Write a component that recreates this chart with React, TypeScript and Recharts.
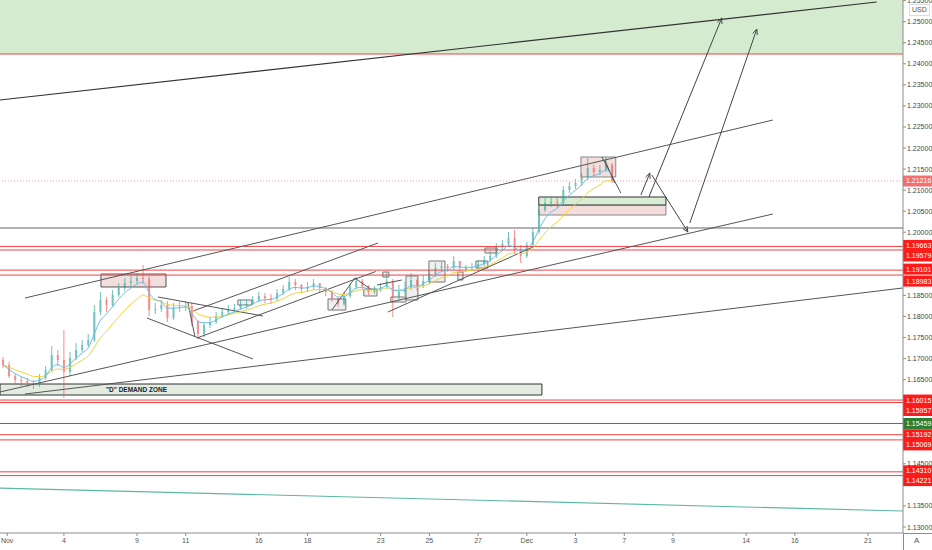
import React from 'react';
import { ComposedChart, XAxis, YAxis, Bar, Line, ReferenceLine, ReferenceArea } from 'recharts';

// ---------- candle data (6-hour candles, EURUSD, Oct 30 – Dec 4) ----------
const T_START = -0.5;
const T_STEP = 0.25;

const OPEN = [
  1.16966, 1.16847, 1.16586, 1.16491, 1.16467, 1.16420, 1.16372, 1.16539, 1.16729, 1.17085,
  1.16966, 1.16681, 1.17014, 1.17204, 1.17322, 1.17441, 1.18106, 1.18391, 1.18272, 1.18510,
  1.18676, 1.18795, 1.18842, 1.18913, 1.18890, 1.18153, 1.18177, 1.18272, 1.17963, 1.18201,
  1.18225, 1.18248, 1.17868, 1.17584, 1.17797, 1.17868, 1.18011, 1.18106, 1.18153, 1.18201,
  1.18272, 1.18296, 1.18391, 1.18486, 1.18438, 1.18415, 1.18557, 1.18652, 1.18818, 1.18747,
  1.18652, 1.18700, 1.18795, 1.18676, 1.18581, 1.18438, 1.18296, 1.18486, 1.18700, 1.18842,
  1.18723, 1.18581, 1.18628, 1.18700, 1.18842, 1.18462, 1.18581, 1.18676, 1.18866, 1.18723,
  1.18842, 1.19008, 1.19151, 1.19198, 1.19151, 1.19317, 1.19151, 1.19151, 1.19175, 1.19246,
  1.19341, 1.19436, 1.19649, 1.19721, 1.19863, 1.19578, 1.19436, 1.19697, 1.20006, 1.20528,
  1.20694, 1.20718, 1.20694, 1.21003, 1.21098, 1.21169, 1.21312, 1.21525, 1.21431, 1.21478,
  1.21597,
];
const HIGH = [
  1.17037, 1.16919, 1.16634, 1.16562, 1.16539, 1.16491, 1.16634, 1.16824, 1.17299, 1.17204,
  1.17678, 1.17156, 1.17370, 1.17441, 1.17584, 1.18272, 1.18581, 1.18462, 1.18628, 1.18795,
  1.18913, 1.18961, 1.19032, 1.19222, 1.18961, 1.18320, 1.18391, 1.18367, 1.18320, 1.18343,
  1.18367, 1.18320, 1.17916, 1.17868, 1.17987, 1.18106, 1.18201, 1.18272, 1.18296, 1.18391,
  1.18391, 1.18486, 1.18581, 1.18557, 1.18533, 1.18652, 1.18747, 1.18937, 1.18890, 1.18771,
  1.18818, 1.18890, 1.18795, 1.18700, 1.18628, 1.18438, 1.18581, 1.18795, 1.18937, 1.18890,
  1.18747, 1.18723, 1.18795, 1.19056, 1.18890, 1.18747, 1.18818, 1.19032, 1.18913, 1.18985,
  1.19103, 1.19270, 1.19293, 1.19246, 1.19436, 1.19293, 1.19222, 1.19270, 1.19341, 1.19436,
  1.19555, 1.19744, 1.19816, 1.20006, 1.20053, 1.19697, 1.19768, 1.20101, 1.20647, 1.20813,
  1.20861, 1.20837, 1.21098, 1.21193, 1.21264, 1.21407, 1.21763, 1.21597, 1.21597, 1.21787,
  1.21644,
];
const LOW = [
  1.16776, 1.16539, 1.16396, 1.16349, 1.16325, 1.16277, 1.16325, 1.16491, 1.16681, 1.16824,
  1.16064, 1.16586, 1.16966, 1.17156, 1.17275, 1.17394, 1.18035, 1.18106, 1.18225, 1.18462,
  1.18605, 1.18700, 1.18771, 1.18771, 1.18011, 1.18058, 1.18106, 1.17868, 1.17916, 1.18106,
  1.18130, 1.17774, 1.17465, 1.17512, 1.17726, 1.17821, 1.17963, 1.18035, 1.18082, 1.18153,
  1.18177, 1.18272, 1.18343, 1.18320, 1.18296, 1.18367, 1.18510, 1.18605, 1.18628, 1.18557,
  1.18581, 1.18628, 1.18581, 1.18486, 1.18343, 1.18225, 1.18248, 1.18438, 1.18652, 1.18628,
  1.18510, 1.18533, 1.18581, 1.18652, 1.17987, 1.18391, 1.18486, 1.18628, 1.18605, 1.18676,
  1.18771, 1.18937, 1.19080, 1.19056, 1.19103, 1.19080, 1.19056, 1.19080, 1.19103, 1.19198,
  1.19293, 1.19388, 1.19578, 1.19673, 1.19483, 1.19270, 1.19388, 1.19649, 1.19958, 1.20481,
  1.20599, 1.20576, 1.20647, 1.20932, 1.21027, 1.21098, 1.21241, 1.21336, 1.21359, 1.21431,
  1.21169,
];
const CLOSE = [
  1.16847, 1.16586, 1.16491, 1.16467, 1.16420, 1.16372, 1.16539, 1.16729, 1.17085, 1.16966,
  1.16681, 1.17014, 1.17204, 1.17322, 1.17441, 1.18106, 1.18391, 1.18272, 1.18510, 1.18676,
  1.18795, 1.18842, 1.18913, 1.18890, 1.18153, 1.18177, 1.18272, 1.17963, 1.18201, 1.18225,
  1.18248, 1.17868, 1.17584, 1.17797, 1.17868, 1.18011, 1.18106, 1.18153, 1.18201, 1.18272,
  1.18296, 1.18391, 1.18486, 1.18438, 1.18415, 1.18557, 1.18652, 1.18818, 1.18747, 1.18652,
  1.18700, 1.18795, 1.18676, 1.18581, 1.18438, 1.18296, 1.18486, 1.18700, 1.18842, 1.18723,
  1.18581, 1.18628, 1.18700, 1.18842, 1.18462, 1.18581, 1.18676, 1.18866, 1.18723, 1.18842,
  1.19008, 1.19151, 1.19198, 1.19151, 1.19317, 1.19151, 1.19151, 1.19175, 1.19246, 1.19341,
  1.19436, 1.19649, 1.19721, 1.19863, 1.19578, 1.19436, 1.19697, 1.20006, 1.20528, 1.20694,
  1.20718, 1.20694, 1.21003, 1.21098, 1.21169, 1.21312, 1.21525, 1.21431, 1.21478, 1.21597,
  1.21216,
];

// ---------- axes ----------
const X_DOMAIN = [-0.624, 36.44];
const X_TICKS = [-0.33, 2, 5, 7, 10, 12, 15, 17, 19, 21, 23, 25, 27, 30, 32, 35];
const X_LABELS = ['Nov', '4', '9', '11', '16', '18', '23', '25', '27', 'Dec', '3', '7', '9', '14', '16', '21'];
const Y_DOMAIN = [1.12858, 1.25515];
// price-scale ticks that are not hidden behind the price tags
const Y_TICKS = [
  1.13, 1.135, 1.145, 1.165, 1.17, 1.175, 1.18, 1.185,
  1.2, 1.205, 1.21, 1.215, 1.22, 1.225, 1.23, 1.235, 1.24, 1.245, 1.25, 1.255,
];

// ---------- horizontal levels ----------
const RED_LEVELS = [1.24233, 1.19663, 1.19579, 1.19101, 1.18983, 1.16015, 1.15957, 1.15192, 1.15069, 1.1431, 1.14221];
const GRAY_LEVEL = 1.20101;
const GREEN_LEVEL = 1.15459;
const LAST_PRICE = 1.21216;
const SUPPLY_ZONE = [1.24233, 1.25515];
const TAG_PRICES = [1.21216, 1.19663, 1.19579, 1.19101, 1.18983, 1.16015, 1.15957, 1.15459, 1.15192, 1.15069, 1.1431, 1.14221];

// ---------- drawings: [t1, p1, t2, p2] ----------
const MAIN_LINE = [-0.624, 1.2314, 35.36, 1.25468];
const TREND_LINES = [
  [0.402, 1.18438, 31.1, 1.22665],
  [-0.624, 1.16206, 31.1, 1.20433],
  [0.402, 1.16158, 36.43, 1.18676],
  [15.3, 1.18106, 21.25, 1.19649],
  [7.3, 1.1813, 14.89, 1.19744],
  [7.46, 1.17488, 14.8, 1.19068],
  [5.86, 1.18462, 10.17, 1.18011],
  [5.41, 1.17963, 9.76, 1.1699],
  [7.09, 1.1832, 7.38, 1.17512],
  [13.0, 1.18153, 13.94, 1.18913],
  [13.94, 1.18913, 14.64, 1.18628],
  [14.85, 1.18747, 15.87, 1.18866],
  [24.08, 1.21787, 24.86, 1.20932],
  [24.2, 1.21716, 24.61, 1.21169],
];
const TEAL_LINE = [-0.624, 1.13926, 36.43, 1.1338];
const ARROWS = [
  [25.68, 1.20884, 26.05, 1.21407],
  [26.13, 1.21359, 27.61, 1.20006],
  [26.01, 1.20837, 29.0, 1.25088],
  [27.69, 1.20219, 30.44, 1.24826],
];
// boxes: [t1, t2, pTop, pBottom]
const PINK_BOXES = [
  [3.52, 6.19, 1.19008, 1.187],
  [23.22, 24.65, 1.21787, 1.21312],
  [21.49, 26.71, 1.20647, 1.20409],
];
const GREEN_BOX = [21.49, 26.71, 1.20837, 1.20647];
const DEMAND_ZONE = [-0.624, 21.62, 1.16396, 1.16135];
const SMALL_BOXES = [
  [12.84, 13.57, 1.18415, 1.18153],
  [14.31, 14.85, 1.18652, 1.18486],
  [15.09, 15.34, 1.19056, 1.18937],
  [15.42, 16.04, 1.18462, 1.18343],
  [16.04, 16.53, 1.18961, 1.18391],
  [16.98, 17.64, 1.19317, 1.18818],
  [18.17, 18.38, 1.19056, 1.18866],
  [18.91, 19.4, 1.19317, 1.19151],
  [19.28, 19.77, 1.19626, 1.19507],
  [9.14, 9.72, 1.18391, 1.18272],
];

// ---------- styles ----------
const FONT = 'Liberation Sans, Arial, sans-serif';
const UP = '#26a69a';
const DOWN = '#ef5350';
const TAG_NUDGE = [0, -1, 6, -1, 6, 0, 8, 0, 0, 5, -1, 5];

function ema(values: number[], n: number) {
  const a = 2 / (n + 1);
  let e = values[0];
  return values.map((v, i) => {
    e = i === 0 ? v : a * v + (1 - a) * e;
    return e;
  });
}
const FAST = ema(CLOSE, 4);
const SLOW = ema(CLOSE, 9);

const data = CLOSE.map((c, i) => ({
  t: T_START + i * T_STEP,
  o: OPEN[i],
  h: HIGH[i],
  l: LOW[i],
  c,
  range: [LOW[i], HIGH[i]],
  fast: FAST[i],
  slow: SLOW[i],
}));

const Candle = (props: any) => {
  const { x, y, width, height, payload } = props;
  if (!payload || x == null || y == null) return null;
  const { o, h, l, c } = payload;
  const color = c >= o ? UP : DOWN;
  const k = h === l ? 0 : height / (h - l);
  const top = y + (h - Math.max(o, c)) * k;
  const bot = y + (h - Math.min(o, c)) * k;
  const cx = x + width / 2;
  return (
    <g opacity={0.65}>
      <line x1={cx} x2={cx} y1={y} y2={y + height} stroke={color} strokeWidth={1} />
      <rect x={x} y={top} width={width} height={Math.max(1, bot - top)} fill={color} />
    </g>
  );
};

const ArrowShape = (props: any) => {
  const { x1, y1, x2, y2 } = props;
  const ang = Math.atan2(y2 - y1, x2 - x1);
  const L = 6;
  const w = 0.42;
  const ax = x2 - L * Math.cos(ang - w);
  const ay = y2 - L * Math.sin(ang - w);
  const bx = x2 - L * Math.cos(ang + w);
  const by = y2 - L * Math.sin(ang + w);
  return (
    <g>
      <line x1={x1} y1={y1} x2={x2} y2={y2} stroke="#444" strokeWidth={1} />
      <polyline points={`${ax},${ay} ${x2},${y2} ${bx},${by}`} fill="none" stroke="#444" strokeWidth={1} />
    </g>
  );
};

const PriceTag = (props: any) => {
  const vb = props.viewBox || {};
  const right = (vb.x ?? 0) + (vb.width ?? 903);
  const y = (vb.y ?? 0) + props.nudge;
  return (
    <g>
      <rect x={right} y={y - 5.5} width={29} height={11} fill={props.bg} />
      <text x={right + 3} y={y} dy="0.35em" fontSize={7} fill="#fff" fontFamily={FONT}>
        {props.text}
      </text>
    </g>
  );
};

const tagColor = (p: number, i: number) => (i === 0 ? '#f46f6f' : p === GREEN_LEVEL ? '#2e7d32' : '#ff1a1a');

export default function App() {
  return (
    <div style={{ position: 'absolute', left: 0, top: 0, width: 932, height: 550, background: '#fff', fontFamily: FONT }}>
      <ComposedChart width={932} height={550} data={data} margin={{ top: 0, right: 0, bottom: 0, left: 0 }}>
        <XAxis
          dataKey="t"
          type="number"
          domain={X_DOMAIN}
          ticks={X_TICKS}
          allowDataOverflow
          tickFormatter={(v: number) => X_LABELS[X_TICKS.indexOf(v)] ?? ''}
          height={17}
          tickSize={3}
          tickMargin={2}
          interval={0}
          axisLine={{ stroke: '#8c8c8c' }}
          tickLine={{ stroke: '#8c8c8c' }}
          tick={{ fontSize: 7, fill: '#555', fontFamily: FONT }}
        />
        <YAxis
          orientation="right"
          type="number"
          domain={Y_DOMAIN}
          ticks={Y_TICKS}
          allowDataOverflow
          interval={0}
          width={29}
          tickSize={3}
          tickMargin={1}
          tickFormatter={(v: number) => v.toFixed(5)}
          axisLine={{ stroke: '#8c8c8c' }}
          tickLine={{ stroke: '#8c8c8c' }}
          tick={{ fontSize: 7, fill: '#444', fontFamily: FONT }}
        />

        <ReferenceArea y1={SUPPLY_ZONE[0]} y2={SUPPLY_ZONE[1]} fill="#d5ebd0" fillOpacity={1} stroke="none" ifOverflow="visible" />

        <ReferenceArea
          x1={DEMAND_ZONE[0]}
          x2={DEMAND_ZONE[1]}
          y1={DEMAND_ZONE[2]}
          y2={DEMAND_ZONE[3]}
          fill="#e4ece1"
          fillOpacity={1}
          stroke="#333"
          strokeWidth={1}
          ifOverflow="visible"
          label={{ value: '"D" DEMAND ZONE', position: 'insideLeft', offset: 106, fontSize: 6.5, fontWeight: 700, fill: '#222', fontFamily: FONT }}
        />
        {SMALL_BOXES.map((b, i) => (
          <ReferenceArea key={'s' + i} x1={b[0]} x2={b[1]} y1={b[2]} y2={b[3]} fill="#e2e2e2" fillOpacity={0.55} stroke="#777" strokeWidth={1} ifOverflow="visible" />
        ))}
        {PINK_BOXES.map((b, i) => (
          <ReferenceArea key={'p' + i} x1={b[0]} x2={b[1]} y1={b[2]} y2={b[3]} fill="#efcfcf" fillOpacity={0.7} stroke={i === 0 ? '#555' : '#888'} strokeWidth={1} ifOverflow="visible" />
        ))}
        <ReferenceArea x1={GREEN_BOX[0]} x2={GREEN_BOX[1]} y1={GREEN_BOX[2]} y2={GREEN_BOX[3]} fill="#d8edd4" fillOpacity={1} stroke="#333" strokeWidth={1} ifOverflow="visible" />

        {RED_LEVELS.map((p, i) => (
          <ReferenceLine key={'r' + i} y={p} stroke="#f24040" strokeWidth={1} ifOverflow="visible" />
        ))}
        <ReferenceLine y={GRAY_LEVEL} stroke="#666" strokeWidth={1} ifOverflow="visible" />
        <ReferenceLine y={GREEN_LEVEL} stroke="#4e7a4e" strokeWidth={1} ifOverflow="visible" />
        <ReferenceLine y={LAST_PRICE} stroke="#f4a0a0" strokeWidth={1} strokeDasharray="1 2" ifOverflow="visible" />

        <ReferenceLine
          segment={[{ x: MAIN_LINE[0], y: MAIN_LINE[1] }, { x: MAIN_LINE[2], y: MAIN_LINE[3] }]}
          stroke="#333"
          strokeWidth={1.2}
          ifOverflow="visible"
        />
        {TREND_LINES.map((s, i) => (
          <ReferenceLine key={'t' + i} segment={[{ x: s[0], y: s[1] }, { x: s[2], y: s[3] }]} stroke="#555" strokeWidth={1} ifOverflow="visible" />
        ))}
        <ReferenceLine
          segment={[{ x: TEAL_LINE[0], y: TEAL_LINE[1] }, { x: TEAL_LINE[2], y: TEAL_LINE[3] }]}
          stroke="#5cb8a2"
          strokeWidth={1.2}
          ifOverflow="visible"
        />
        {ARROWS.map((s, i) => (
          <ReferenceLine key={'a' + i} segment={[{ x: s[0], y: s[1] }, { x: s[2], y: s[3] }]} shape={ArrowShape} ifOverflow="visible" />
        ))}

        <Bar dataKey="range" barSize={2} shape={Candle} isAnimationActive={false} />
        <Line dataKey="slow" type="monotone" stroke="#f2d23c" strokeWidth={1} dot={false} activeDot={false} isAnimationActive={false} />
        <Line dataKey="fast" type="monotone" stroke="#69bfe8" strokeWidth={1} dot={false} activeDot={false} isAnimationActive={false} />

        {TAG_PRICES.map((p, i) => (
          <ReferenceLine
            key={'tag' + i}
            y={p}
            stroke="none"
            ifOverflow="visible"
            label={<PriceTag text={p.toFixed(5)} bg={tagColor(p, i)} nudge={TAG_NUDGE[i]} />}
          />
        ))}
      </ComposedChart>
      <div style={{ position: 'absolute', left: 903, top: 533, width: 29, height: 1, background: '#8c8c8c' }} />
      <div style={{ position: 'absolute', left: 903, top: 533, width: 1, height: 17, background: '#8c8c8c' }} />
      <div
        style={{
          position: 'absolute',
          left: 909,
          top: 4,
          padding: '1px 2px',
          border: '1px solid #ddd',
          background: '#fff',
          fontSize: 7,
          lineHeight: '8px',
          color: '#555',
        }}
      >
        USD
      </div>
      <div style={{ position: 'absolute', left: 914, top: 536, fontSize: 8, color: '#555' }}>A</div>
    </div>
  );
}
